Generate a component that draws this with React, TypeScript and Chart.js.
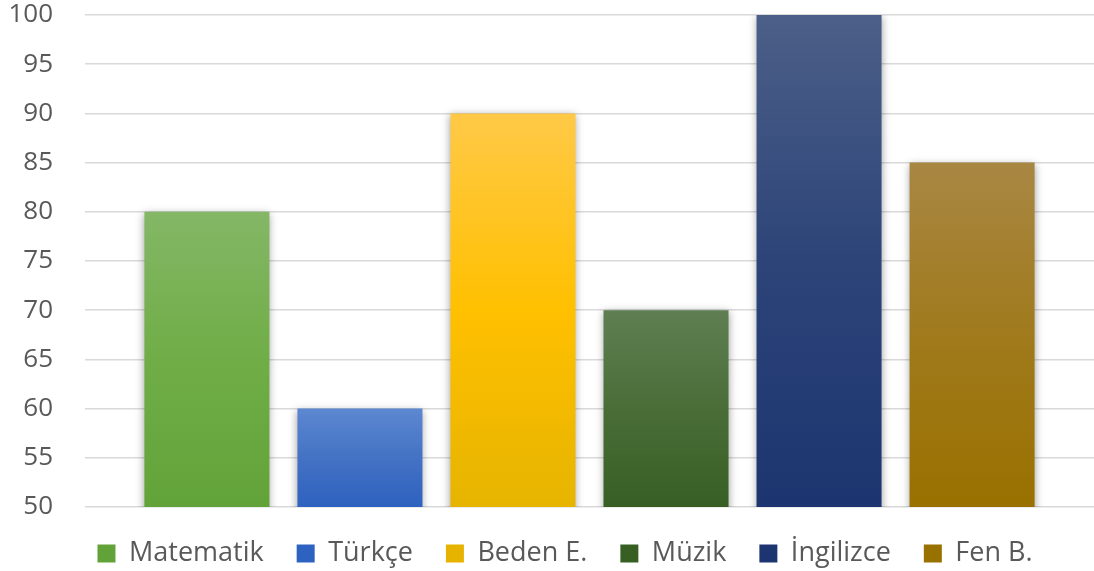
import React, { useEffect, useRef } from "react";
import { Chart, registerables } from "chart.js";

Chart.register(...registerables);

const categories = ["Matematik", "Türkçe", "Beden E.", "Müzik", "İngilizce", "Fen B."];
const scores = [80, 60, 90, 70, 100, 85];
const yMin = 50;
const yMax = 100;
const yStep = 5;

const topColors = ["#84B766", "#5C88D1", "#FFC947", "#5F7F52", "#4C5F88", "#A88743"];
const midColors = ["#70AD47", "#4472C4", "#FFC000", "#4A6D38", "#2C4478", "#A07A1C"];
const bottomColors = ["#62A339", "#2E62C0", "#E6B400", "#375F24", "#1C3570", "#997100"];

const FONT = "'Open Sans', 'Noto Sans', sans-serif";

const shadowPlugin = {
  id: "barShadow",
  beforeDatasetsDraw(chart: any) {
    const ctx = chart.ctx;
    ctx.save();
    ctx.shadowColor = "rgba(0,0,0,0.38)";
    ctx.shadowBlur = 8;
    ctx.shadowOffsetX = 0;
    ctx.shadowOffsetY = 2;
  },
  afterDatasetsDraw(chart: any) {
    chart.ctx.restore();
  },
};

const legendShiftPlugin = {
  id: "legendShift",
  afterLayout(chart: any) {
    const lg = chart.legend;
    if (lg) {
      lg.left += 14;
      lg.right += 14;
    }
  },
};

export default function App() {
  const canvasRef = useRef<HTMLCanvasElement | null>(null);

  useEffect(() => {
    document.body.style.margin = "0";
    const canvas = canvasRef.current;
    if (!canvas) return;

    const datasets = categories.map((name, i) => ({
      label: name,
      data: [scores[i]],
      borderWidth: 0,
      backgroundColor: (ctx: any) => {
        const chart = ctx.chart;
        const area = chart.chartArea;
        if (ctx.type !== "data" || !area) return midColors[i];
        const yScale = chart.scales.y;
        const top = yScale.getPixelForValue(scores[i]);
        const bottom = yScale.getPixelForValue(yMin);
        const g = chart.ctx.createLinearGradient(0, top, 0, bottom);
        g.addColorStop(0, topColors[i]);
        g.addColorStop(0.5, midColors[i]);
        g.addColorStop(1, bottomColors[i]);
        return g;
      },
    }));

    const chart = new Chart(canvas, {
      type: "bar",
      data: { labels: [""], datasets },
      options: {
        animation: false,
        responsive: false,
        maintainAspectRatio: false,
        categoryPercentage: 0.91,
        barPercentage: 0.817,
        layout: { padding: { left: 8, right: 0, top: 15, bottom: -6 } },
        plugins: {
          tooltip: { enabled: false },
          legend: {
            position: "bottom",
            labels: {
              boxWidth: 18,
              boxHeight: 18,
              padding: 33,
              color: "#595959",
              font: { family: FONT, size: 27 },
            },
          },
        },
        scales: {
          x: { display: false },
          y: {
            min: yMin,
            max: yMax,
            border: { display: false },
            grid: { color: "#D9D9D9", lineWidth: 1.5, drawTicks: false },
            ticks: {
              stepSize: yStep,
              padding: 32,
              color: "#595959",
              font: { family: FONT, size: 26 },
            },
            afterFit(scale: any) {
              scale.width = 77;
              scale.paddingTop = 0;
              scale.paddingBottom = 0;
            },
          },
        },
      },
      plugins: [shadowPlugin, legendShiftPlugin],
    });

    return () => chart.destroy();
  }, []);

  return (
    <div style={{ width: 1094, height: 571 }}>
      <canvas ref={canvasRef} width={1094} height={571} style={{ display: "block" }} />
    </div>
  );
}
